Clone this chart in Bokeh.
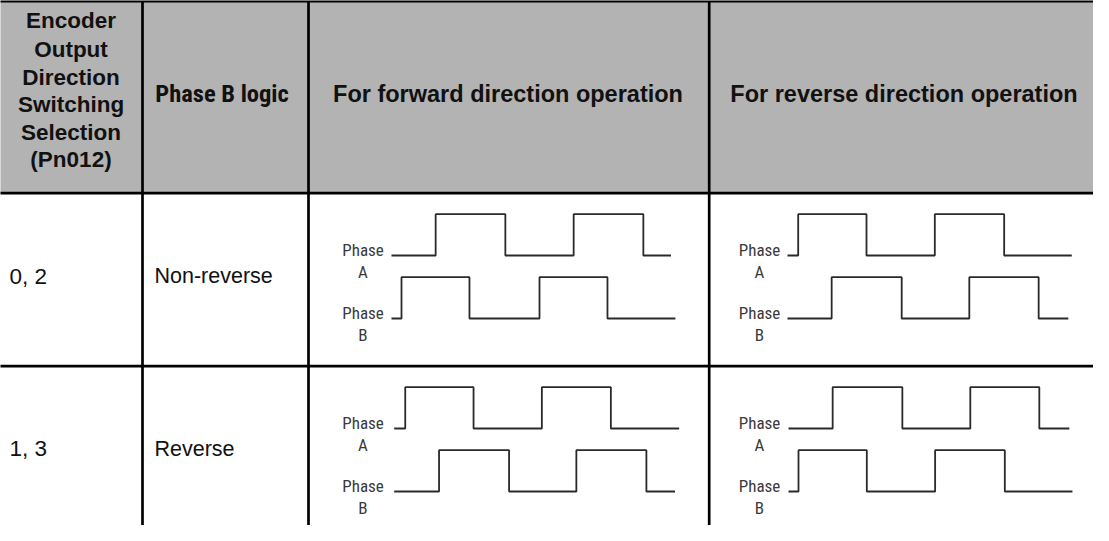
from bokeh.plotting import figure
from bokeh.models import Range1d
from bokeh.core.properties import value
from bokeh.embed import file_html
from bokeh.resources import INLINE

# ---------------- data ----------------
header_col1 = ["Encoder", "Output", "Direction", "Switching", "Selection", "(Pn012)"]
header_col2 = "Phase B logic"
header_col3 = "For forward direction operation"
header_col4 = "For reverse direction operation"
settings = ["0, 2", "1, 3"]
logic = ["Non-reverse", "Reverse"]
phase_names = ["A", "B"]

# waveform edge times (quarter-period units, start low, alternating rise/fall)
r1_fwd_A = [1.28, 3.30, 5.28, 7.30]; r1_fwd_A_end = 8.10
r1_fwd_B = [0.29, 2.26, 4.29, 6.26]; r1_fwd_B_end = 8.23
r1_rev_A = [0.31, 2.29, 4.27, 6.28]; r1_rev_A_end = 8.24
r1_rev_B = [1.28, 3.31, 5.27, 7.28]; r1_rev_B_end = 8.14
r2_fwd_A = [0.32, 2.30, 4.28, 6.28]; r2_fwd_A_end = 8.26
r2_fwd_B = [1.30, 3.33, 5.28, 7.31]; r2_fwd_B_end = 8.14
r2_rev_A = [1.28, 3.30, 5.27, 7.27]; r2_rev_A_end = 8.14
r2_rev_B = [0.29, 2.27, 4.25, 6.27]; r2_rev_B_end = 8.23

# ---------------- layout ----------------
W, H = 1093, 525
X0, Y0 = 8, 8
col_x = [7, 150, 316, 716.7, X0 + W]
row_y = [8.7, 200.7, 373.7, Y0 + H]
wave_origin = {"fwd": [399.0, 401.7], "rev": [795.0, 796.0]}
label_cx = {"fwd": 370.5, "rev": 767.0}
unit = 34.5
amp_hi = {"A": 21.0, "B": 84.0}
amp = 41.3
COND = value("Roboto Condensed")

p = figure(width=W, height=H, output_backend="svg", toolbar_location=None,
           x_range=Range1d(X0, X0 + W), y_range=Range1d(Y0 + H, Y0),
           min_border=0, outline_line_color=None, background_fill_color="white",
           border_fill_color="white")
p.axis.visible = False
p.grid.visible = False

# header background
p.quad(left=[col_x[0]], right=[col_x[-1]], top=[row_y[0]], bottom=[row_y[1]],
       fill_color="#b3b3b3", line_color=None)

# waveforms
cells = {
    (0, "fwd"): [(r1_fwd_A, r1_fwd_A_end), (r1_fwd_B, r1_fwd_B_end)],
    (0, "rev"): [(r1_rev_A, r1_rev_A_end), (r1_rev_B, r1_rev_B_end)],
    (1, "fwd"): [(r2_fwd_A, r2_fwd_A_end), (r2_fwd_B, r2_fwd_B_end)],
    (1, "rev"): [(r2_rev_A, r2_rev_A_end), (r2_rev_B, r2_rev_B_end)],
}
xs_all, ys_all = [], []
lab_x, lab_y, lab_t = [], [], []
for (row, col), waves in cells.items():
    top = row_y[row + 1]
    ox = wave_origin[col][row]
    for name, (edges, end) in zip(phase_names, waves):
        hi = top + amp_hi[name]
        lo = hi + amp
        t = [0.0]
        lv = [lo]
        level = lo
        for e in edges:
            t += [e, e]
            nxt = hi if level == lo else lo
            lv += [level, nxt]
            level = nxt
        t.append(end)
        lv.append(level)
        xs_all.append([ox + v * unit for v in t])
        ys_all.append(lv)
        lab_x += [label_cx[col], label_cx[col]]
        lab_y += [lo - 5.5, lo + 16.5]
        lab_t += ["Phase", name]

p.multi_line(xs=xs_all, ys=ys_all, line_color="#2a2a2a", line_width=1.8)
p.text(x=lab_x, y=lab_y, text=lab_t, text_font=COND, text_font_style="normal",
       text_font_size="17px", text_align="center", text_baseline="middle",
       text_color="#3a3a3a")

# table lines
hx0, hx1, hy = [], [], []
for y in row_y[:3]:
    hx0.append(col_x[0]); hx1.append(col_x[-1]); hy.append(y)
p.segment(x0=hx0, y0=hy, x1=hx1, y1=hy, line_color="black", line_width=2.7)
vx = col_x[1:4]
p.segment(x0=vx, y0=[row_y[0]] * 3, x1=vx, y1=[row_y[-1]] * 3,
          line_color="black", line_width=2.7)

# header texts
hy_lines = [28, 56.5, 84.5, 112, 139.5, 167]
p.text(x=[78.5] * len(header_col1), y=hy_lines, text=header_col1,
       text_font=value("Liberation Sans"), text_font_style="bold",
       text_font_size="22.5px", text_align="center", text_baseline="middle",
       text_color="#111111")
p.text(x=[229.5], y=[101], text=[header_col2],
       text_font=COND, text_font_style="bold",
       text_font_size="24.5px", text_align="center", text_baseline="middle",
       text_color="#111111")
p.text(x=[515.5, 911.5], y=[101, 101], text=[header_col3, header_col4],
       text_font=value("Liberation Sans"), text_font_style="bold",
       text_font_size="23.5px", text_align="center", text_baseline="middle",
       text_color="#111111")

# body texts
row_cy = [283.5, 456]
p.text(x=[17, 17], y=row_cy, text=settings, text_font=value("Liberation Sans"),
       text_font_size="22.5px", text_align="left", text_baseline="middle",
       text_color="#111111")
p.text(x=[162, 162], y=row_cy, text=logic, text_font=value("Liberation Sans"),
       text_font_size="21.5px", text_align="left", text_baseline="middle",
       text_color="#111111")

open("out.html", "w").write(file_html(p, INLINE))
